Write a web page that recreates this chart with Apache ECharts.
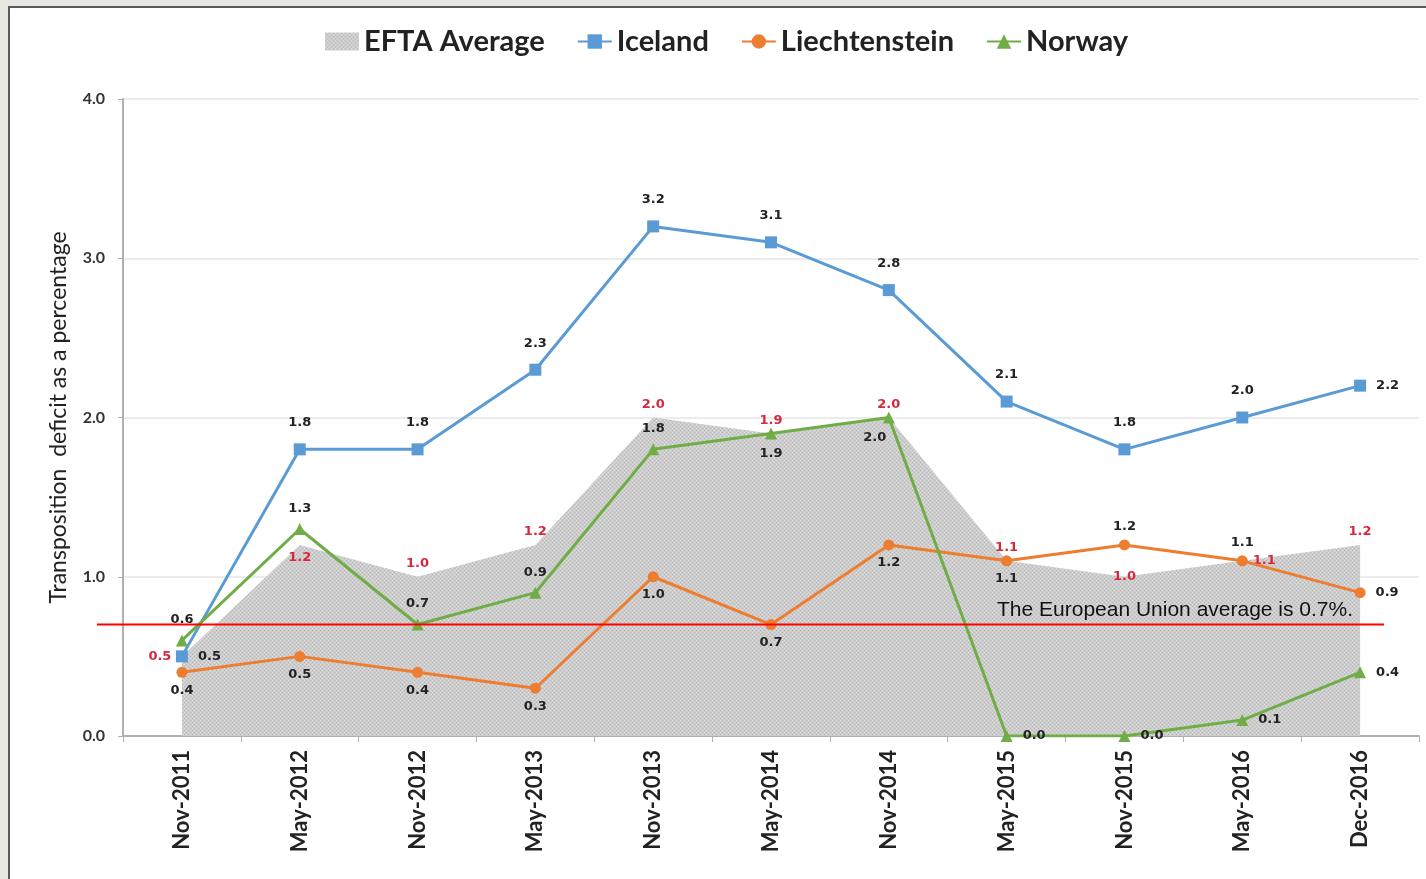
<!DOCTYPE html>
<html>
<head>
<meta charset="utf-8">
<script src="https://cdn.jsdelivr.net/npm/echarts@6/dist/echarts.min.js"></script>
<style>
  body { margin: 0; background: #e9e7e2; }
  #wrap {
    position: absolute; left: 8px; top: 6px; right: 0; bottom: 0;
    border-top: 2px solid #5a5a5a; border-left: 2px solid #5a5a5a;
    background: #fff;
  }
  #chart { width: 1416px; height: 871px; }
</style>
</head>
<body>
<div id="wrap"><div id="chart"></div></div>
<script>
  // periods on the x axis
  var periods = ['Nov-2011', 'May-2012', 'Nov-2012', 'May-2013', 'Nov-2013', 'May-2014',
                 'Nov-2014', 'May-2015', 'Nov-2015', 'May-2016', 'Dec-2016']

  // transposition deficit (%)
  var eftaAverage   = [0.5, 1.2, 1.0, 1.2, 2.0, 1.9, 2.0, 1.1, 1.0, 1.1, 1.2]
  var iceland       = [0.5, 1.8, 1.8, 2.3, 3.2, 3.1, 2.8, 2.1, 1.8, 2.0, 2.2]
  var liechtenstein = [0.4, 0.5, 0.4, 0.3, 1.0, 0.7, 1.2, 1.1, 1.2, 1.1, 0.9]
  var norway        = [0.6, 1.3, 0.7, 0.9, 1.8, 1.9, 2.0, 0.0, 0.0, 0.1, 0.4]
  var euAverage     = 0.7

  var yTicks = [0, 1, 2, 3, 4]

  // where each value label sits (styling only)
  var eftaLabelPos    = ['left', 'bottom', 'top', 'top', 'top', 'top', 'top', 'top', 'inside', 'right', 'top']
  var icelandLabelPos = ['right', 'top', 'top', 'top', 'top', 'top', 'top', 'top', 'top', 'top', 'right']
  var liechLabelPos   = ['bottom', 'bottom', 'bottom', 'bottom', 'bottom', 'bottom', 'bottom', 'bottom', 'top', 'top', 'right']
  var norwayLabelPos  = ['top', 'top', 'top', 'top', 'top', 'bottom', 'bottom', 'right', 'right', 'right', 'right']
  var norwayLabelShift = [0, 0, 0, 0, 0, 0, -14, 0, 0, 0, 0]

  // dotted grey fill like the original area
  function makePattern () {
    var c = document.createElement('canvas')
    c.width = 4
    c.height = 4
    var ctx = c.getContext('2d')
    ctx.fillStyle = '#cdcdcd'
    ctx.fillRect(0, 0, 4, 4)
    ctx.fillStyle = '#b6b6b6'
    ctx.fillRect(0, 0, 1, 1)
    ctx.fillRect(2, 2, 1, 1)
    ctx.fillStyle = '#dedede'
    ctx.fillRect(2, 0, 1, 1)
    ctx.fillRect(0, 2, 1, 1)
    return { image: c, repeat: 'repeat' }
  }
  var pattern = makePattern()

  function withLabels (values, positions, dist, shifts) {
    return values.map(function (v, i) {
      var d = dist
      if (positions[i] === 'right' || positions[i] === 'left') d = 10
      var lbl = { position: positions[i], distance: d }
      if (shifts && shifts[i]) lbl.offset = [shifts[i], 0]
      return { value: v, label: lbl }
    })
  }

  var labelFont = {
    show: true,
    fontFamily: 'DejaVu Sans',
    fontWeight: 'bold',
    fontSize: 13,
    color: '#222',
    formatter: function (p) { return p.value.toFixed(1) }
  }

  var chart = echarts.init(document.getElementById('chart'))
  chart.setOption({
    animation: false,
    legend: {
      left: 310,
      top: 14,
      itemWidth: 34,
      itemHeight: 18,
      itemGap: 32,
      textStyle: { fontFamily: 'Lato', fontWeight: 'bold', fontSize: 29, color: '#222' },
      data: [
        { name: 'EFTA Average', icon: 'rect', itemStyle: { color: pattern } },
        { name: 'Iceland' },
        { name: 'Liechtenstein' },
        { name: 'Norway' }
      ]
    },
    grid: { left: 113, right: 7, top: 91, bottom: 143 },
    xAxis: {
      type: 'category',
      data: periods,
      boundaryGap: true,
      axisLine: { lineStyle: { color: '#b0b0b0', width: 2 } },
      axisTick: { show: true, length: 6, lineStyle: { color: '#b0b0b0' } },
      axisLabel: {
        rotate: 90,
        margin: 14,
        fontFamily: 'Lato',
        fontWeight: 'bold',
        fontSize: 22,
        color: '#222'
      }
    },
    yAxis: {
      type: 'value',
      min: yTicks[0],
      max: yTicks[yTicks.length - 1],
      interval: 1,
      name: 'Transposition  deficit as a percentage',
      nameLocation: 'middle',
      nameRotate: 90,
      nameGap: 53,
      nameTextStyle: { fontFamily: 'Lato', fontSize: 23, color: '#222' },
      axisLine: { show: true, lineStyle: { color: '#b0b0b0', width: 2 } },
      axisTick: { show: true, length: 5, lineStyle: { color: '#b0b0b0' } },
      splitLine: { lineStyle: { color: '#ececec', width: 2 } },
      axisLabel: {
        margin: 18,
        fontFamily: 'Lato',
        fontWeight: 'bold',
        fontSize: 16,
        color: '#333',
        formatter: function (v) { return v.toFixed(1) }
      }
    },
    series: [
      {
        name: 'EFTA Average',
        type: 'line',
        z: 1,
        symbol: 'circle',
        symbolSize: 1,
        itemStyle: { color: 'rgba(0,0,0,0)' },
        lineStyle: { width: 0, opacity: 0 },
        areaStyle: { color: pattern, opacity: 1 },
        label: Object.assign({}, labelFont, { color: '#d6283f' }),
        data: withLabels(eftaAverage, eftaLabelPos, 6)
      },
      {
        name: 'Iceland',
        type: 'line',
        z: 3,
        symbol: 'rect',
        symbolSize: 12,
        color: '#5b9bd5',
        lineStyle: { width: 3 },
        label: labelFont,
        data: withLabels(iceland, icelandLabelPos, 14)
      },
      {
        name: 'Liechtenstein',
        type: 'line',
        z: 3,
        symbol: 'circle',
        symbolSize: 11,
        color: '#ed7d31',
        lineStyle: { width: 3 },
        label: labelFont,
        data: withLabels(liechtenstein, liechLabelPos, 6)
      },
      {
        name: 'Norway',
        type: 'line',
        z: 4,
        symbol: 'triangle',
        symbolSize: 12,
        color: '#70ad47',
        lineStyle: { width: 3 },
        label: labelFont,
        data: withLabels(norway, norwayLabelPos, 8, norwayLabelShift)
      }
    ]
  })

  // EU average reference line with its note
  var euY = chart.convertToPixel({ yAxisIndex: 0 }, euAverage)
  chart.setOption({
    graphic: [
      {
        type: 'line',
        z: 100,
        shape: { x1: 87, y1: euY, x2: 1374, y2: euY },
        style: { stroke: '#ff0000', lineWidth: 2 }
      },
      {
        type: 'text',
        z: 100,
        x: 987,
        y: euY - 14,
        style: {
          text: 'The European Union average is 0.7%.',
          fontFamily: 'Liberation Sans',
          fontSize: 21,
          fill: '#111',
          verticalAlign: 'middle'
        }
      }
    ]
  })
</script>
</body>
</html>
